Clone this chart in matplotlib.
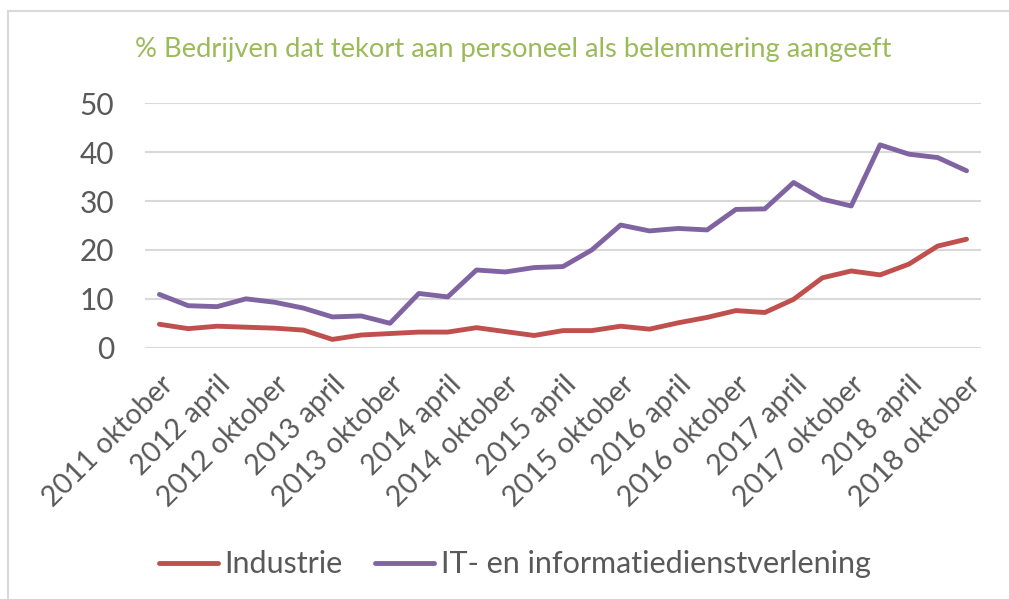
import matplotlib.pyplot as plt
from matplotlib.lines import Line2D

plt.rcParams['font.family'] = ['Lato', 'DejaVu Sans']

# kwartalen 2011 oktober .. 2018 oktober (29 punten), label om de twee
jaren = list(range(2011, 2019))
labels = []
for j in jaren:
    if j > 2011:
        labels.append(f"{j} april")
    labels.append(f"{j} oktober")

industrie = [4.8, 3.9, 4.4, 4.2, 4.0, 3.6, 1.7, 2.6, 2.9, 3.2,
             3.2, 4.1, 3.3, 2.5, 3.5, 3.5, 4.4, 3.8, 5.1, 6.2,
             7.6, 7.2, 9.9, 14.3, 15.7, 14.9, 17.1, 20.8, 22.2]
it_diensten = [10.9, 8.6, 8.4, 10.0, 9.3, 8.1, 6.3, 6.5, 5.0, 11.1,
               10.4, 15.9, 15.5, 16.4, 16.6, 20.0, 25.1, 23.9, 24.4, 24.1,
               28.3, 28.4, 33.8, 30.4, 29.0, 41.5, 39.6, 38.9, 36.2]

grijs = "#595959"
fig = plt.figure(figsize=(10.09, 5.99), dpi=100)
ax = fig.add_axes([0.1437, 0.4195, 0.8285, 0.408])

x = list(range(len(industrie)))
ax.plot(x, industrie, color="#C0504D", lw=3.5, solid_capstyle="round", label="Industrie")
ax.plot(x, it_diensten, color="#8064A2", lw=3.5, solid_capstyle="round",
        label="IT- en informatiedienstverlening")

ax.set_xlim(-0.5, len(x) - 0.5)
ax.set_ylim(0, 50)
ax.set_yticks([0, 10, 20, 30, 40, 50])
ax.set_xticks(x[::2])
ax.set_xticklabels(labels, rotation=45, ha="right", rotation_mode="anchor")
ax.tick_params(axis="y", length=0, pad=22, labelsize=21.5, labelcolor=grijs)
ax.tick_params(axis="x", length=0, pad=17, labelsize=20.5, labelcolor=grijs)
ax.yaxis.grid(True, color="#D9D9D9", lw=1.5)
ax.set_axisbelow(True)
for s in ax.spines.values():
    s.set_visible(False)

fig.text(0.509, 0.917, "% Bedrijven dat tekort aan personeel als belemmering aangeeft",
         color="#9BBB59", fontsize=19.7, ha="center", va="center")

fig.legend(loc="center", bbox_to_anchor=(0.51, 0.058), ncol=2, frameon=False,
           fontsize=22, labelcolor=grijs, handlelength=1.95, handletextpad=0.2,
           columnspacing=1.05)

# rand van het grafiekgebied
fig.add_artist(Line2D([8 / 1009, 1], [1 - 11 / 599] * 2, color="#D9D9D9", lw=1.5))
fig.add_artist(Line2D([8 / 1009] * 2, [0, 1 - 11 / 599], color="#D9D9D9", lw=1.5))

fig.savefig("out.png", dpi=100)
